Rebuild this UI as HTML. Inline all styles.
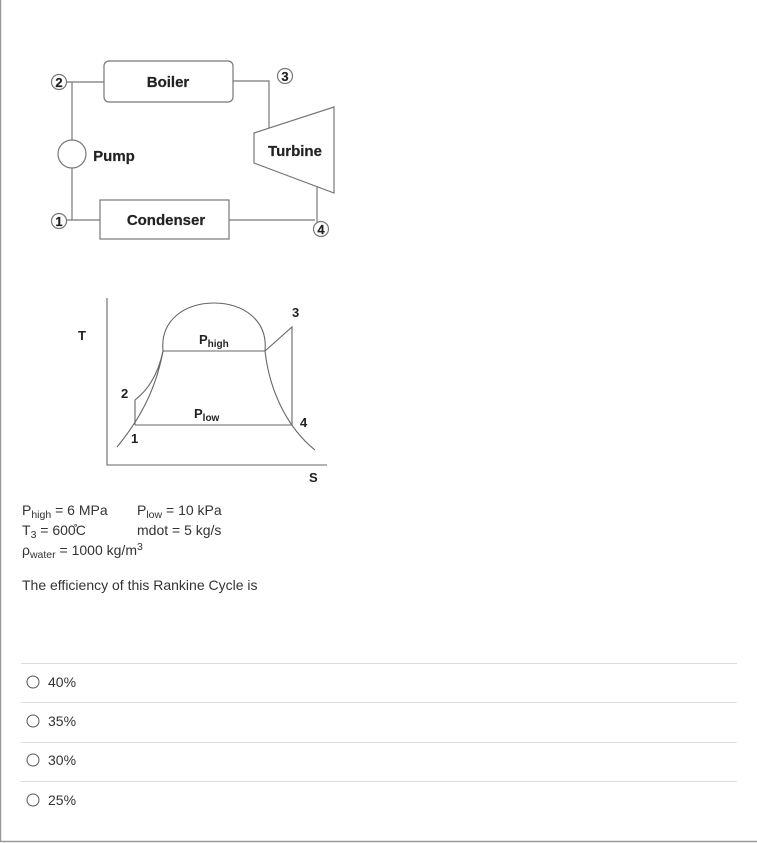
<!DOCTYPE html>
<html><head><style>
html,body{margin:0;padding:0;background:#fff}
svg{display:block}
text{font-family:"Liberation Sans",Arial,sans-serif}
</style></head><body>
<svg width="757" height="843" viewBox="0 0 757 843" xmlns="http://www.w3.org/2000/svg">
<rect x="0" y="0" width="757" height="843" fill="#fff"/>
<line x1="0.5" y1="0" x2="0.5" y2="842" stroke="#999" stroke-width="1.5"/>
<line x1="0" y1="841.5" x2="757" y2="841.5" stroke="#999" stroke-width="1.5"/>
<g stroke="#777" stroke-width="1.2" fill="none">
<rect x="104" y="61" width="129" height="41" rx="5" fill="#fff"/>
<rect x="100" y="200" width="129" height="39" fill="#fff"/>
<polyline points="66,82 104,82"/>
<polyline points="72,82 72,140"/>
<circle cx="72" cy="154" r="14" fill="#fff"/>
<polyline points="72,168 72,220 100,220"/>
<polyline points="66,220 72,220"/>
<polyline points="233,81 269,81 269,130"/>
<polygon points="254,133 334,107 334,193 254,163" fill="#fff"/>
<polyline points="317,186 317,222"/>
<polyline points="229,220 315,220"/>
<circle cx="59" cy="82" r="7.5" fill="#fff"/>
<circle cx="59" cy="221" r="7.5" fill="#fff"/>
<circle cx="285" cy="76" r="7.5" fill="#fff"/>
<circle cx="321" cy="229" r="7.5" fill="#fff"/>
</g>
<g font-size="15" fill="#222" font-weight="bold" text-anchor="middle" stroke="#222" stroke-width="0.2">
<text x="168" y="87">Boiler</text>
<text x="114" y="161">Pump</text>
<text x="166" y="225">Condenser</text>
<text x="295" y="156">Turbine</text>
<text x="59" y="87" font-size="13">2</text>
<text x="59" y="226" font-size="13">1</text>
<text x="285" y="81" font-size="13">3</text>
<text x="321" y="234" font-size="13">4</text>
</g>
<g stroke="#666" stroke-width="1.1" fill="none">
<polyline points="107,298 107,465 327,465"/>
<path d="M163,351 C160,320 185,303 214,303 C243,303 268,320 265,351"/>
<path d="M117,447 C135,425 155,395 163,351"/>
<path d="M265,351 C270,395 290,430 315,450"/>
<line x1="163" y1="351" x2="265" y2="351"/>
<line x1="135" y1="425" x2="292" y2="425"/>
<path d="M135,425 L135,400 C148,390 158,375 163,351"/>
<polyline points="265,351 292,327 292,425"/>
</g>
<g font-size="13" fill="#222" font-weight="bold">
<text x="78" y="340">T</text>
<text x="292" y="317">3</text>
<text x="121" y="398">2</text>
<text x="131" y="443">1</text>
<text x="300" y="427">4</text>
<text x="309" y="482">S</text>
<text x="199" y="344">P<tspan font-size="10" dy="3">high</tspan></text>
<text x="194" y="418">P<tspan font-size="10" dy="3">low</tspan></text>
</g>
<g font-size="14" fill="#333">
<text x="22" y="515">P<tspan font-size="10.5" dy="3">high</tspan><tspan dy="-3"> = 6 MPa</tspan></text>
<text x="137" y="515">P<tspan font-size="10.5" dy="3">low</tspan><tspan dy="-3"> = 10 kPa</tspan></text>
<text x="22" y="535">T<tspan font-size="10.5" dy="3">3</tspan><tspan dy="-3"> = 600̊C</tspan></text>
<text x="137" y="535">mdot = 5 kg/s</text>
<text x="22" y="555">ρ<tspan font-size="10.5" dy="3">water</tspan><tspan dy="-3"> = 1000 kg/m</tspan><tspan font-size="10.5" dy="-5">3</tspan></text>
<text x="22" y="590">The efficiency of this Rankine Cycle is</text>
</g>
<g stroke="#ddd" stroke-width="1">
<line x1="21" y1="663.5" x2="737" y2="663.5"/>
<line x1="21" y1="702.5" x2="737" y2="702.5"/>
<line x1="21" y1="742.5" x2="737" y2="742.5"/>
<line x1="21" y1="781.5" x2="737" y2="781.5"/>
</g>
<g stroke="#555" stroke-width="1" fill="#fff">
<circle cx="33" cy="682" r="6"/>
<circle cx="33" cy="721" r="6"/>
<circle cx="33" cy="760" r="6"/>
<circle cx="33" cy="800" r="6"/>
</g>
<g font-size="14" fill="#333">
<text x="48" y="687">40%</text>
<text x="48" y="726">35%</text>
<text x="48" y="765">30%</text>
<text x="48" y="805">25%</text>
</g>
</svg>
</body></html>
